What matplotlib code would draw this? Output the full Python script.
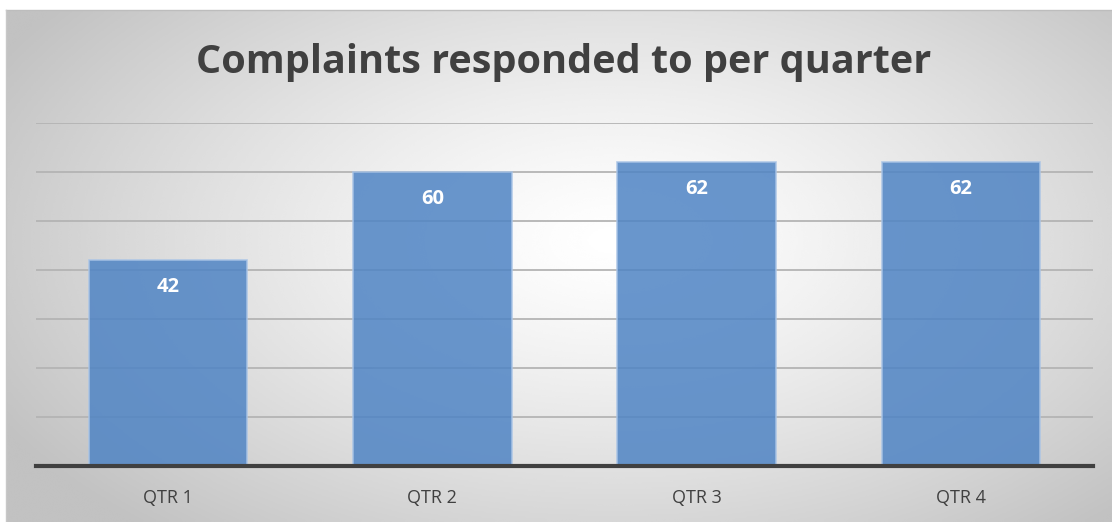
import matplotlib.pyplot as plt
import numpy as np

quarters = ['QTR 1', 'QTR 2', 'QTR 3', 'QTR 4']
responded = [42, 60, 62, 62]
title = 'Complaints responded to per quarter'

W, H = 1112, 522
fig = plt.figure(figsize=(W / 100, H / 100), dpi=100)
fig.patch.set_facecolor('white')

# chart area background: radial gradient, light in the middle, grey at the corners
bg = fig.add_axes([6 / W, 0, 1 - 6 / W, (H - 10) / H])
yy, xx = np.mgrid[0:1:300j, 0:1:600j]
d = np.sqrt(((xx - 0.55) / 0.75) ** 2 + ((yy - 0.45) / 0.9) ** 2)
shade = np.clip(1.0 - 0.3 * d ** 1.3, 0.76, 1.0)
bg.imshow(shade, cmap='gray', vmin=0, vmax=1, aspect='auto', extent=[0, 1, 0, 1],
          interpolation='bicubic')
bg.set_axis_off()
fig.add_artist(plt.Line2D([6 / W, 1], [1 - 10 / H, 1 - 10 / H], color='#bdbdbd', lw=1))
fig.add_artist(plt.Line2D([6 / W, 6 / W], [0, 1 - 10 / H], color='#c8c8c8', lw=1))

# plot area: x 36..1093, baseline at y=466, value 70 at y=123
ax = fig.add_axes([36 / W, (H - 466) / H, (1093 - 36) / W, (466 - 123) / H])
ax.patch.set_alpha(0)
x = np.arange(len(quarters))
bars = ax.bar(x, responded, width=0.6, color='#4f84c4', alpha=0.85,
              edgecolor='#a9c4e6', linewidth=1.2, zorder=3)
ax.set_xlim(-0.5, len(quarters) - 0.5)
ax.set_ylim(0, 70)
ax.set_yticks(np.arange(10, 71, 10))
ax.yaxis.grid(True, color='#b4b4b4', linewidth=1.3, zorder=1)
ax.tick_params(axis='y', left=False, labelleft=False)
ax.tick_params(axis='x', bottom=False, pad=13, labelsize=13, labelcolor='#404040')
ax.set_xticks(x)
ax.set_xticklabels(quarters, family='Open Sans')
for s in ['top', 'right', 'left']:
    ax.spines[s].set_visible(False)
ax.spines['bottom'].set_color('#404040')
ax.spines['bottom'].set_linewidth(3)
ax.spines['bottom'].set_zorder(5)

for b, v in zip(bars, responded):
    ax.annotate(str(v), (b.get_x() + b.get_width() / 2, v), xytext=(0, -19.5),
                textcoords='offset points', ha='center', va='center',
                color='white', fontsize=14.5, fontweight='bold', family='Open Sans', zorder=4)

fig.text(564 / W, 1 - 63 / H, title, ha='center', va='center', fontsize=28.5,
         fontweight='bold', color='#404040', family='Open Sans')

fig.savefig('out.png', dpi=100)
